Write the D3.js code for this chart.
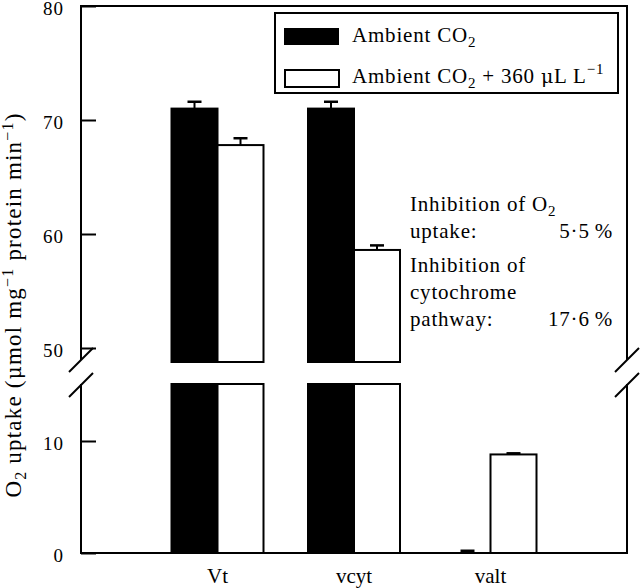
<!DOCTYPE html>
<html>
<head>
<meta charset="utf-8">
<script src="https://cdn.jsdelivr.net/npm/d3@7"></script>
<style>
  body { margin: 0; background: #fff; }
  svg { display: block; font-family: "Liberation Serif", "Times New Roman", serif; }
  text { fill: #000; }
</style>
</head>
<body>
<svg></svg>
<script>
var width = 640;
var height = 588;

// data
var categories = ["Vt", "vcyt", "valt"];
var ambient = [71.0, 71.0, 0.1];
var ambientErr = [0.6, 0.6, 0.1];
var elevated = [67.8, 58.6, 8.8];
var elevatedErr = [0.6, 0.4, 0.1];
var upperTicks = [50, 60, 70, 80];
var lowerTicks = [0, 10];

var svg = d3.select("svg")
    .attr("width", width)
    .attr("height", height);

// plot frame (names avoid window.top etc.)
var pLeft = 81, pRight = 627, pTop = 6, pBottom = 553;
var breakTop = 359, breakBottom = 385;    // axis gap
var barBreakTop = 362, barBreakBottom = 384; // bar gap

var x = d3.scalePoint()
    .domain(categories)
    .range([pLeft, pRight])
    .padding(1);

var xSub = d3.scaleBand()
    .domain(["ambient", "elevated"])
    .range([-46, 46]);

var yUpper = d3.scaleLinear().domain([50, 80]).range([348, pTop]);
var yLower = d3.scaleLinear().domain([0, 10]).range([pBottom, 441]);
var lowerMax = yLower.invert(barBreakBottom);

var g = svg.append("g");

// frame lines
var frame = [
  [pLeft, pTop, pRight, pTop],
  [pLeft, pTop, pLeft, breakTop],
  [pLeft, breakBottom, pLeft, pBottom],
  [pRight, pTop, pRight, breakTop],
  [pRight, breakBottom, pRight, pBottom],
  [pLeft, pBottom, pRight, pBottom]
];
g.selectAll(".frame")
  .data(frame)
  .enter().append("line")
    .attr("x1", function(d) { return d[0]; })
    .attr("y1", function(d) { return d[1]; })
    .attr("x2", function(d) { return d[2]; })
    .attr("y2", function(d) { return d[3]; })
    .attr("stroke", "#000")
    .attr("stroke-width", 2)
    .attr("stroke-linecap", "square");

// break marks
[pLeft, pRight].forEach(function(ax) {
  [372, 397].forEach(function(yy) {
    g.append("line")
      .attr("x1", ax - 12).attr("y1", yy)
      .attr("x2", ax + 12).attr("y2", yy - 24)
      .attr("stroke", "#000")
      .attr("stroke-width", 2);
  });
});

// axes
function styleAxis(sel) {
  sel.select(".domain").remove();
  sel.selectAll(".tick line").attr("stroke", "#000").attr("stroke-width", 2);
  sel.selectAll(".tick text")
    .attr("font-size", 19)
    .attr("dy", "0.44em")
    .attr("letter-spacing", 1)
    .attr("font-family", "Liberation Serif, serif")
    .attr("fill", "#000");
}

g.append("g")
  .attr("transform", "translate(" + pLeft + ",0)")
  .call(d3.axisLeft(yUpper).tickValues(upperTicks).tickSize(-15).tickPadding(17))
  .call(styleAxis);

g.append("g")
  .attr("transform", "translate(" + pLeft + ",0)")
  .call(d3.axisLeft(yLower).tickValues(lowerTicks).tickSize(-15).tickPadding(17))
  .call(styleAxis);

// x labels
g.selectAll(".xlab")
  .data(categories)
  .enter().append("text")
    .attr("x", function(d) { return x(d); })
    .attr("y", 583)
    .attr("text-anchor", "middle")
    .attr("font-size", 21)
    .text(function(d) { return d; });

// bars
var series = [
  { key: "ambient", values: ambient, err: ambientErr, fill: "#000" },
  { key: "elevated", values: elevated, err: elevatedErr, fill: "#fff" }
];

function yOf(v) { return v > lowerMax ? yUpper(v) : yLower(v); }

series.forEach(function(s) {
  var data = categories.map(function(c, i) { return { cat: c, v: s.values[i], e: s.err[i] }; });
  var bx = function(d) { return x(d.cat) + xSub(s.key); };
  var bw = xSub.bandwidth();

  var parts = [];
  data.forEach(function(d) {
    if (d.v > lowerMax) {
      parts.push({ d: d, y0: yUpper(d.v), y1: barBreakTop });
      parts.push({ d: d, y0: barBreakBottom, y1: pBottom });
    } else if (d.v > 0.5) {
      parts.push({ d: d, y0: yLower(d.v), y1: pBottom });
    }
  });

  g.selectAll(".bar-" + s.key)
    .data(parts)
    .enter().append("rect")
      .attr("x", function(p) { return bx(p.d); })
      .attr("y", function(p) { return p.y0; })
      .attr("width", bw)
      .attr("height", function(p) { return p.y1 - p.y0; })
      .attr("fill", s.fill)
      .attr("stroke", "#000")
      .attr("stroke-width", 2);

  // error bars
  var eb = g.selectAll(".err-" + s.key)
    .data(data)
    .enter().append("g");
  eb.append("line")
    .attr("x1", function(d) { return bx(d) + bw / 2; })
    .attr("x2", function(d) { return bx(d) + bw / 2; })
    .attr("y1", function(d) { return yOf(d.v); })
    .attr("y2", function(d) { return yOf(d.v + d.e); })
    .attr("stroke", "#000")
    .attr("stroke-width", 2);
  eb.append("line")
    .attr("x1", function(d) { return bx(d) + bw / 2 - 7; })
    .attr("x2", function(d) { return bx(d) + bw / 2 + 7; })
    .attr("y1", function(d) { return yOf(d.v + d.e); })
    .attr("y2", function(d) { return yOf(d.v + d.e); })
    .attr("stroke", "#000")
    .attr("stroke-width", 2.5);
});

// legend
var legend = g.append("g");
legend.append("rect")
  .attr("x", 275).attr("y", 13)
  .attr("width", 343).attr("height", 80)
  .attr("fill", "#fff")
  .attr("stroke", "#000")
  .attr("stroke-width", 2);
legend.append("rect")
  .attr("x", 284).attr("y", 28).attr("width", 55).attr("height", 17)
  .attr("fill", "#000");
legend.append("rect")
  .attr("x", 285).attr("y", 70).attr("width", 54).attr("height", 17)
  .attr("fill", "#fff").attr("stroke", "#000").attr("stroke-width", 2);

var l1 = legend.append("text").attr("x", 352).attr("y", 42)
  .attr("font-size", 21).attr("letter-spacing", 0.8);
l1.append("tspan").text("Ambient CO");
l1.append("tspan").attr("font-size", 15).attr("dy", 5).text("2");

var l2 = legend.append("text").attr("x", 352).attr("y", 83)
  .attr("font-size", 21).attr("letter-spacing", 0.8);
l2.append("tspan").text("Ambient CO");
l2.append("tspan").attr("font-size", 15).attr("dy", 5).text("2");
l2.append("tspan").attr("dy", -5).text(" + 360 ");
l2.append("tspan").attr("font-family", "DejaVu Serif, serif").attr("font-size", 19).text("\u03bc");
l2.append("tspan").text("L L");
l2.append("tspan").attr("font-size", 15).attr("dy", -9).text("\u22121");

// annotation
var ann = g.append("g").attr("font-size", 21).attr("letter-spacing", 0.8);
var a1 = ann.append("text").attr("x", 410).attr("y", 211);
a1.append("tspan").text("Inhibition of O");
a1.append("tspan").attr("font-size", 15).attr("dy", 5).text("2");
ann.append("text").attr("x", 410).attr("y", 238).text("uptake:");
ann.append("text").attr("x", 613).attr("y", 238).attr("text-anchor", "end").text("5\u00b75\u2009%");
ann.append("text").attr("x", 410).attr("y", 272).text("Inhibition of");
ann.append("text").attr("x", 410).attr("y", 299).text("cytochrome");
ann.append("text").attr("x", 410).attr("y", 326).text("pathway:");
ann.append("text").attr("x", 613).attr("y", 326).attr("text-anchor", "end").text("17\u00b76\u2009%");

// y axis title
var yt = g.append("text")
  .attr("transform", "translate(21,305) rotate(-90)")
  .attr("text-anchor", "middle")
  .attr("font-size", 23)
  .attr("letter-spacing", 1.2);
yt.append("tspan").text("O");
yt.append("tspan").attr("font-size", 16).attr("dy", 5).text("2");
yt.append("tspan").attr("dy", -5).text(" uptake (");
yt.append("tspan").attr("font-family", "DejaVu Serif, serif").attr("font-size", 20).text("\u03bc");
yt.append("tspan").text("mol mg");
yt.append("tspan").attr("font-size", 16).attr("dy", -8).text("\u22121");
yt.append("tspan").attr("dy", 8).text(" protein min");
yt.append("tspan").attr("font-size", 16).attr("dy", -8).text("\u22121");
yt.append("tspan").attr("dy", 8).text(")");
</script>
</body>
</html>
